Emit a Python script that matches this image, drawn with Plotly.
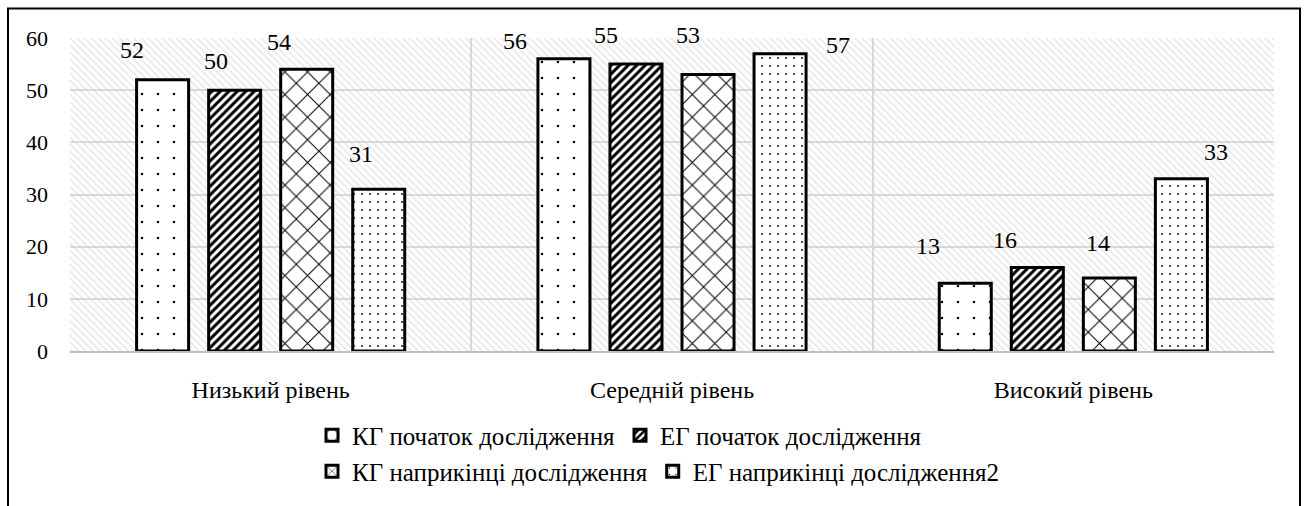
import plotly.graph_objects as go

categories = ["Низький рівень", "Середній рівень", "Високий рівень"]
series_names = [
    "КГ початок дослідження",
    "ЕГ початок дослідження",
    "КГ наприкінці дослідження",
    "ЕГ наприкінці дослідження2",
]
kg_start = [52, 56, 13]
eg_start = [50, 55, 16]
kg_end = [54, 53, 14]
eg_end = [31, 57, 33]
y_ticks = [0, 10, 20, 30, 40, 50, 60]

series_values = [kg_start, eg_start, kg_end, eg_end]

# styling
FONT = "Liberation Serif"
patterns = [
    dict(shape=".", size=16, solidity=0.02, fgcolor="black", bgcolor="white", fillmode="replace"),
    dict(shape="/", size=6, solidity=0.5, fgcolor="black", bgcolor="white", fillmode="replace"),
    dict(shape="x", size=16, solidity=0.12, fgcolor="black", bgcolor="white", fillmode="replace"),
    dict(shape=".", size=8, solidity=0.04, fgcolor="black", bgcolor="white", fillmode="replace"),
]
# label offsets in px (dx, dy up) per series, per category
label_shift = [
    [(-31, 30), (-49, 18), (-37, 37)],
    [(-19, 29), (-30, 29), (-32, 28)],
    [(-28, 27), (-20, 40), (-11, 35)],
    [(-18, 35), (58, 9), (35, 27)],
]
slot = 0.1795
bar_w = 0.1296

fig = go.Figure()

# hatched plot background
fig.add_trace(
    go.Bar(
        x=[categories[1]],
        y=[y_ticks[-1]],
        width=[len(categories)],
        marker=dict(
            color="rgba(0,0,0,0)",
            line=dict(width=0),
            pattern=dict(shape="\\", size=5, solidity=0.3, fgcolor="#d0d0d0", fillmode="overlay"),
        ),
        hoverinfo="skip",
        showlegend=False,
    )
)

for j, (name, vals) in enumerate(zip(series_names, series_values)):
    fig.add_trace(
        go.Bar(
            x=categories,
            y=vals,
            name=name,
            width=bar_w,
            offset=(j - 1.5) * slot - bar_w / 2,
            marker=dict(color="white", line=dict(color="black", width=3), pattern=patterns[j]),
            legend="legend" if j < 2 else "legend2",
        )
    )
    for i, v in enumerate(vals):
        dx, dy = label_shift[j][i]
        fig.add_annotation(
            x=i + (j - 1.5) * slot,
            y=v,
            text=str(v),
            showarrow=False,
            xshift=dx,
            yshift=dy,
            font=dict(family=FONT, size=24, color="black"),
        )

# outer chart frame
fig.add_shape(
    type="rect",
    xref="paper",
    yref="paper",
    x0=-0.0515,
    x1=1.0216,
    y0=-0.6,
    y1=1.094,
    line=dict(color="black", width=2),
    fillcolor="rgba(0,0,0,0)",
)

legend_common = dict(
    orientation="h",
    xanchor="left",
    yanchor="middle",
    x=0.201,
    font=dict(family=FONT, size=25, color="black"),
    bgcolor="rgba(0,0,0,0)",
    itemclick=False,
)

fig.update_layout(
    width=1307,
    height=506,
    margin=dict(l=70, r=33, t=38, b=148),
    barmode="overlay",
    plot_bgcolor="white",
    paper_bgcolor="white",
    font=dict(family=FONT, size=22, color="black"),
    legend=dict(y=-0.27, **legend_common),
    legend2=dict(y=-0.385, **legend_common),
    xaxis=dict(
        type="category",
        categoryorder="array",
        categoryarray=categories,
        range=[-0.5, 2.5],
        tickson="boundaries",
        showgrid=True,
        gridcolor="#d9d9d9",
        gridwidth=2,
        showline=True,
        linecolor="#bfbfbf",
        linewidth=2,
        ticks="",
        ticklabelstandoff=16,
        tickfont=dict(family=FONT, size=24),
    ),
    yaxis=dict(
        range=[0, 60],
        tickvals=y_ticks,
        showgrid=True,
        gridcolor="#d9d9d9",
        gridwidth=2,
        zeroline=False,
        showline=False,
        ticks="",
        ticklabelstandoff=21,
        tickfont=dict(family=FONT, size=22),
    ),
)

fig.write_html(
    "out.html",
    config={"displayModeBar": False},
    post_script="document.body.style.margin='0';",
)
